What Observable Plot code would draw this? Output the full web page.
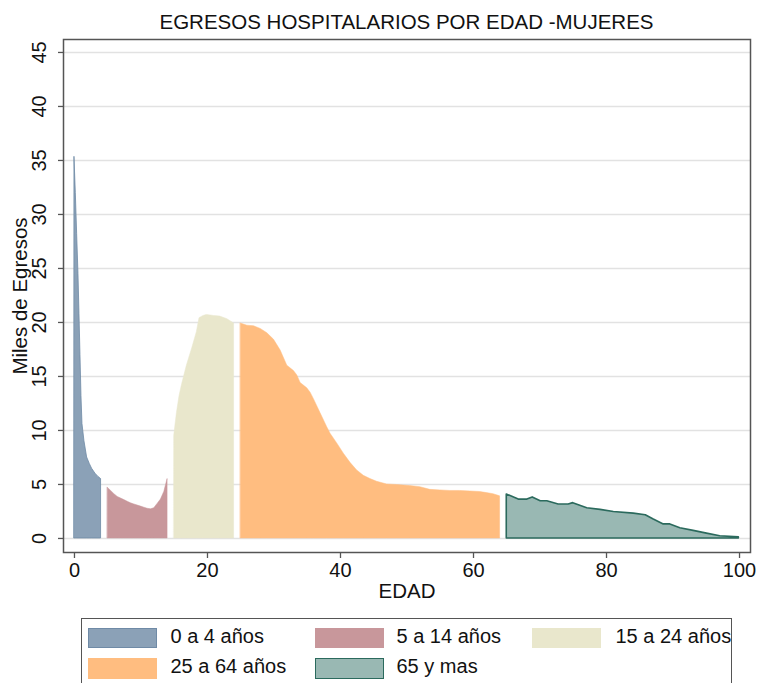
<!DOCTYPE html>
<html><head><meta charset="utf-8">
<script src="https://cdn.jsdelivr.net/npm/d3@7"></script>
<script src="https://cdn.jsdelivr.net/npm/@observablehq/plot@0.6"></script>
<style>
body{margin:0;background:#fff;font-family:"Liberation Sans",Arial,sans-serif;color:#111;}
#wrap{position:relative;width:757px;height:683px;overflow:hidden;background:#fff;}
#title{position:absolute;left:63px;width:687px;top:10px;text-align:center;font-size:20.5px;line-height:24px;}
#chart{position:absolute;left:0;top:36px;}
#legend{position:absolute;left:81px;top:618px;width:651px;height:90px;border:1.5px solid #555;box-sizing:border-box;}
.sw{position:absolute;width:69px;height:20.5px;box-sizing:border-box;}
.lb{position:absolute;font-size:20px;line-height:21px;white-space:nowrap;}
</style></head>
<body>
<div id="wrap">
<div id="title">EGRESOS HOSPITALARIOS POR EDAD -MUJERES</div>
<div id="chart"></div>
<div id="legend"></div>
</div>
<script>
// ---- data ----
const groups = ["0 a 4 años", "5 a 14 años", "15 a 24 años", "25 a 64 años", "65 y mas"];
const fills = ["#8ba1b7", "#c8979b", "#e9e7cc", "#ffbd80", "#99b8b3"];
const strokes = ["#6f8aa6", "#c8979b", "#e9e7cc", "#ffbd80", "#2b6a5d"];

const ageG1 = [0, 0.2, 0.4, 0.6, 0.75, 0.9, 1.05, 1.2, 1.5, 1.9, 2.3, 2.65, 3.15, 3.6, 4.0];
const valG1 = [35.3, 32.0, 28.2, 24.5, 20.8, 17.0, 13.2, 10.6, 9.0, 7.5, 6.9, 6.45, 6.0, 5.7, 5.5];

const ageG2 = [5, 5.5, 6, 6.5, 7, 7.5, 8, 8.5, 9, 9.5, 10, 10.5, 11, 11.5, 12, 12.5, 13, 13.5, 14];
const valG2 = [4.7, 4.4, 4.1, 3.85, 3.7, 3.55, 3.4, 3.25, 3.15, 3.05, 2.95, 2.85, 2.75, 2.7, 2.8, 3.2, 3.6, 4.3, 5.5];

const ageG3 = [15, 15.4, 15.8, 16.2, 16.9, 17.7, 18.4, 18.8, 19.4, 19.9, 21, 21.9, 23, 24];
const valG3 = [9.5, 11.6, 13.2, 14.3, 16.0, 17.6, 19.1, 20.4, 20.6, 20.7, 20.6, 20.55, 20.3, 19.9];

const ageG4 = [25, 26, 27, 28, 29, 30, 31, 32, 33, 33.5, 34, 35, 35.5, 36, 37, 38, 38.5, 39.5, 40.5, 41.5, 42.5, 43.5, 44.5, 45.5, 47, 48.5, 50.5, 52, 53.5, 55, 56.5, 58, 59.5, 61, 62, 63, 64];
const valG4 = [19.9, 19.7, 19.65, 19.4, 19.0, 18.4, 17.4, 16.0, 15.5, 15.1, 14.4, 13.9, 13.5, 12.9, 11.6, 10.3, 9.7, 8.8, 7.85, 7.0, 6.3, 5.8, 5.5, 5.25, 5.0, 4.95, 4.85, 4.75, 4.5, 4.45, 4.4, 4.4, 4.35, 4.3, 4.2, 4.1, 3.9];

const ageG5 = [65, 66.8, 68.1, 68.9, 70.1, 71.1, 72.8, 74.3, 75, 77.1, 79.1, 81.1, 84.1, 85.9, 87.1, 88.6, 89.6, 91.1, 93.1, 95.1, 97.1, 99.9];
const valG5 = [4.07, 3.6, 3.6, 3.8, 3.45, 3.45, 3.15, 3.15, 3.27, 2.8, 2.65, 2.45, 2.3, 2.15, 1.75, 1.3, 1.3, 0.95, 0.7, 0.45, 0.2, 0.1];

const xTicks = [0, 20, 40, 60, 80, 100];
const yTicks = [0, 5, 10, 15, 20, 25, 30, 35, 40, 45];

// ---- build ----
const series = [[ageG1, valG1], [ageG2, valG2], [ageG3, valG3], [ageG4, valG4], [ageG5, valG5]];
const rows = [];
series.forEach(([a, v], i) => a.forEach((x, j) => rows.push({age: x, val: v[j], group: groups[i]})));

const areaMarks = groups.map((g, i) => Plot.areaY(rows.filter(d => d.group === g), {
  x: "age", y: "val", fill: fills[i], stroke: strokes[i],
  strokeWidth: i === 4 ? 1.6 : (i === 0 ? 0.8 : 0.5), curve: "linear"
}));

const chart = Plot.plot({
  width: 757,
  height: 574,
  marginTop: 3,
  marginLeft: 63,
  marginRight: 7,
  marginBottom: 58,
  style: {fontFamily: '"Liberation Sans", Arial, sans-serif', background: "#fff", overflow: "visible"},
  x: {domain: [-1.65, 101.65]},
  y: {domain: [-1.3, 46.2]},
  marks: [
    Plot.gridY(yTicks, {stroke: "#e2e2e2", strokeOpacity: 1, strokeWidth: 1.6}),
    ...areaMarks,
    Plot.frame({stroke: "#555", strokeWidth: 1.5}),
    Plot.axisY(yTicks, {tickSize: 5, tickFormat: () => "", label: null, stroke: "#555", strokeWidth: 1.3}),
    Plot.axisX(xTicks, {tickSize: 6, tickFormat: () => "", label: null, stroke: "#555", strokeWidth: 1.3}),
    Plot.text(yTicks, {y: d => d, text: d => String(d), frameAnchor: "left", textAnchor: "middle", rotate: -90, dx: -24, fontSize: 20, fill: "#111"}),
    Plot.text(xTicks, {x: d => d, text: d => String(d), frameAnchor: "bottom", textAnchor: "middle", dy: 24, fontSize: 20, fill: "#111"}),
    Plot.text(["EDAD"], {frameAnchor: "bottom", textAnchor: "middle", dy: 45, fontSize: 20.5, fill: "#111"}),
    Plot.text(["Miles de Egresos"], {frameAnchor: "left", textAnchor: "middle", rotate: -90, dx: -43, fontSize: 20.5, fill: "#111"})
  ]
});
chart.style.overflow = "visible";
document.getElementById("chart").appendChild(chart);

// ---- legend ----
const leg = document.getElementById("legend");
const pos = [[5.5, 8.5, 88.5, 7], [232.5, 8.5, 314.5, 7], [449.5, 8.5, 533.5, 7], [5.5, 39, 88.5, 37], [232.5, 39, 314.5, 37]];
groups.forEach((g, i) => {
  const [sx, sy, lx, ly] = pos[i];
  const sw = document.createElement("div");
  sw.className = "sw";
  sw.style.left = sx + "px"; sw.style.top = sy + "px";
  sw.style.background = fills[i];
  sw.style.border = "1px solid " + (i === 4 ? strokes[4] : (i === 0 ? strokes[0] : fills[i]));
  leg.appendChild(sw);
  const lb = document.createElement("div");
  lb.className = "lb";
  lb.style.left = lx + "px"; lb.style.top = ly + "px";
  lb.textContent = g;
  leg.appendChild(lb);
});
</script>
</body></html>
